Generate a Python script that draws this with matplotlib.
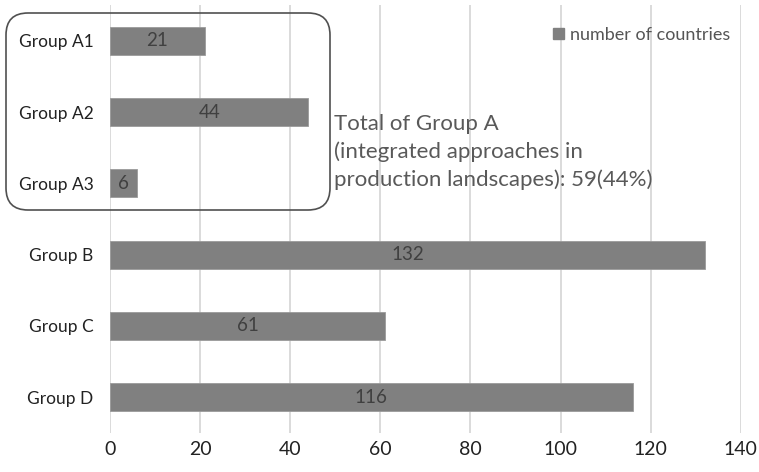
import matplotlib as mpl
mpl.use('Agg')

import matplotlib.pyplot as plt
from matplotlib.patches import FancyBboxPatch, Patch
import numpy as np

groups = ["Group A1", "Group A2", "Group A3", "Group B", "Group C", "Group D"]
countries = [21, 44, 6, 132, 61, 116]
xticks = [0, 20, 40, 60, 80, 100, 120, 140]
note = "Total of Group A\n(integrated approaches in\nproduction landscapes): 59(44%)"

plt.rcParams['font.family'] = ['Lato', 'DejaVu Sans']

fig = plt.figure(figsize=(7.59, 4.72), dpi=100)
ax = fig.add_axes([0.145, 0.083, 0.831, 0.906])

pos = np.arange(len(groups))
bars = ax.barh(pos, countries, height=0.39, color='#808080',
               edgecolor='#9a9a9a', linewidth=0.6, zorder=3,
               label='number of countries')

# value labels in the middle of each bar
for rect, v in zip(bars, countries):
    ax.text(rect.get_width() / 2, rect.get_y() + rect.get_height() / 2, str(v),
            ha='center', va='center', fontsize=13.5, color='#404040', zorder=4)

ax.set_xlim(0, 140)
ax.set_ylim(5.5, -0.5)
ax.set_xticks(xticks)
ax.set_xticklabels([str(t) for t in xticks], fontsize=14, color='#222222')
ax.set_yticks(pos)
ax.set_yticklabels(groups, fontsize=12.5, color='#222222')
ax.tick_params(axis='x', length=0, pad=6)
ax.tick_params(axis='y', length=0, pad=12)

ax.grid(axis='x', color='#d4d4d4', linewidth=1.2, zorder=0)
for s in ax.spines.values():
    s.set_visible(False)

ax.legend(handles=[Patch(color='#808080')], labels=['number of countries'],
          loc='upper right', bbox_to_anchor=(1.0, 0.975), frameon=False,
          borderaxespad=0.2, fontsize=13, handlelength=0.6, handleheight=0.6,
          handletextpad=0.3, labelcolor='#555555')

# rounded frame around the A subgroups
box = FancyBboxPatch((0.06, 2.62), 3.24, 1.97,
                     boxstyle='round,pad=0.0,rounding_size=0.22',
                     transform=fig.dpi_scale_trans, fill=False,
                     edgecolor='#505050', linewidth=1.2)
fig.patches.append(box)

fig.text(334 / 759, 1 - 114 / 472, note, ha='left', va='top',
         fontsize=16, color='#595959', linespacing=1.45)

plt.savefig("out.png", format="png")
